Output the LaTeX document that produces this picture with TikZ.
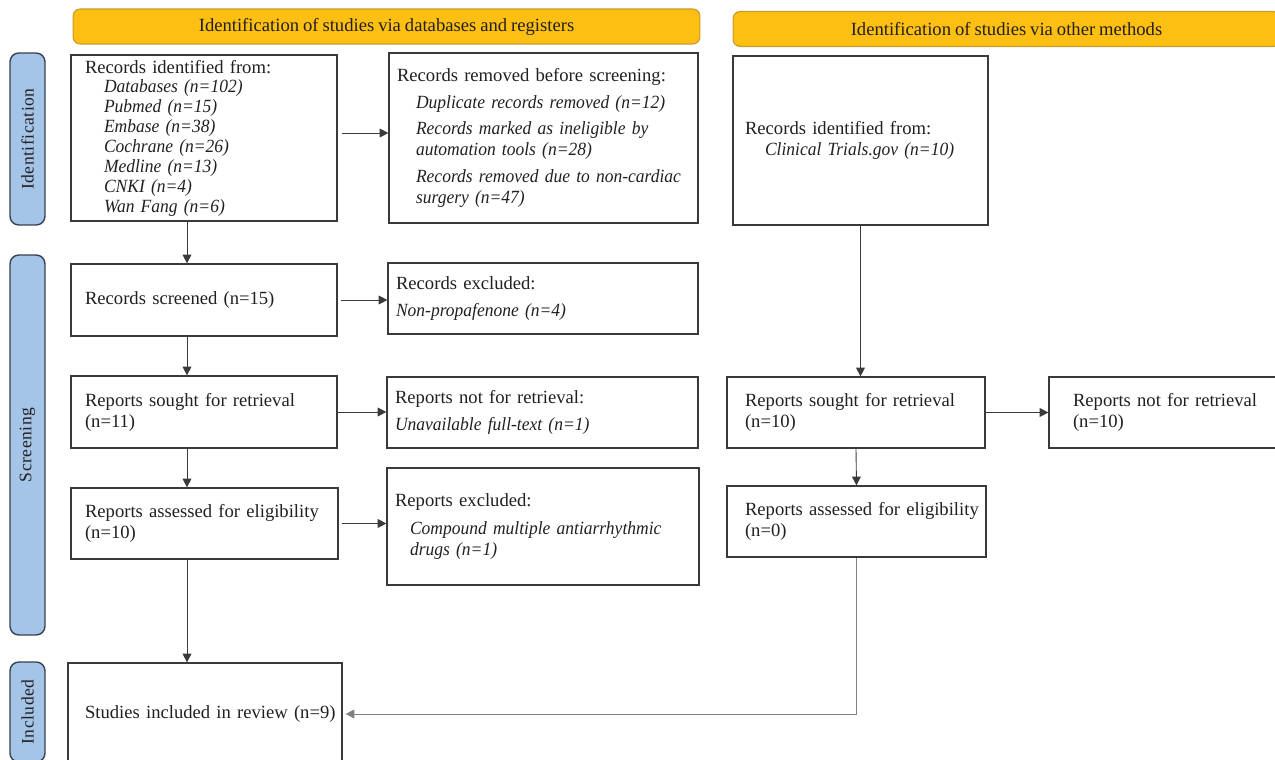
\documentclass[tikz,border=0pt]{standalone}
\usepackage{fontspec}
\setmainfont{Liberation Serif}[WordSpace = 0.85, ItalicFeatures = {FakeStretch = 0.94}]
\usetikzlibrary{arrows.meta}
\definecolor{hdrfill}{HTML}{FDBF12}
\definecolor{hdrline}{HTML}{C99A2E}
\definecolor{sidefill}{HTML}{A4C4E8}
\definecolor{sideline}{HTML}{34414F}
\definecolor{boxline}{HTML}{3A3A3A}
\definecolor{txt}{HTML}{231F20}
\newcommand{\ind}{\hspace*{0.38cm}}
\begin{document}
\begin{tikzpicture}[x = 0.02cm, y = -0.02cm, text = txt,
	font = \fontsize{10.6}{12}\selectfont,
	box/.style = {draw = boxline, line width = 0.7pt, align = left, inner xsep = 0.28cm, inner ysep = 0pt},
	header/.style = {draw = hdrline, fill = hdrfill, rounded corners = 4pt, line width = 0.6pt, minimum height = 0.7cm},
	phase/.style = {draw = sideline, fill = sidefill, rounded corners = 5pt, line width = 0.8pt, rotate = 90, minimum height = 0.7cm,
		font = \fontsize{10}{12}\selectfont\addfontfeature{LetterSpace = 3}},
	arr/.style = {draw = boxline, line width = 0.5pt, -{Triangle[length = 5pt, width = 5pt]}}]
	\useasboundingbox (0, 0) rectangle (1275, 760);
	% headers and phases
	\node [header, minimum width = 12.54cm] (hdrDb) at (386.5, 26.5) {Identification of studies via databases and registers};
	\node [header, minimum width = 10.94cm] (hdrOther) at (1006.5, 29) {Identification of studies via other methods};
	\node [phase, minimum width = 3.44cm] (phId) at (27.5, 139) {Identification};
	\node [phase, minimum width = 7.6cm] (phScr) at (27.5, 445) {Screening};
	\node [phase, minimum width = 2.0cm] (phInc) at (27.5, 712) {Included};
	% databases and registers
	\node [box, text width = 4.76cm, minimum height = 3.32cm, font = \fontsize{10.6}{11.3}\selectfont] (idDb) at (204, 138) {Records identified from:\\
		\ind\textit{Databases (n=102)}\\ \ind\textit{Pubmed (n=15)}\\ \ind\textit{Embase (n=38)}\\
		\ind\textit{Cochrane (n=26)}\\ \ind\textit{Medline (n=13)}\\ \ind\textit{CNKI (n=4)}\\ \ind\textit{Wan Fang (n=6)}};
	\node [box, inner xsep = 0.16cm, text width = 5.86cm, minimum height = 3.4cm] (removed) at (543.5, 138) {Records removed before screening:\\[3pt]
		\ind\textit{Duplicate records removed (n=12)}\\[3pt]
		\ind\mbox{\textit{Records marked as ineligible by}}\\ \ind\textit{automation tools (n=28)}\\[3pt]
		\ind\mbox{\textit{Records removed due to non-cardiac}}\\ \ind\textit{surgery (n=47)}};
	\node [box, text width = 4.76cm, minimum height = 1.44cm] (screened) at (204, 300) {Records screened (n=15)};
	\node [box, inner xsep = 0.16cm, text width = 5.88cm, minimum height = 1.42cm] (excluded) at (543, 298.5) {Records excluded:\\[3pt]
		\textit{Non-propafenone (n=4)}};
	\node [box, text width = 4.76cm, minimum height = 1.44cm] (sought) at (204, 412) {Reports sought for retrieval\\(n=11)};
	\node [box, inner xsep = 0.16cm, text width = 5.9cm, minimum height = 1.42cm] (notRetr) at (542.5, 412.5) {Reports not for retrieval:\\[3pt]
		\textit{Unavailable full-text (n=1)}};
	\node [box, text width = 4.78cm, minimum height = 1.42cm] (assessed) at (204.5, 523.5) {\mbox{Reports assessed for eligibility}\\(n=10)};
	\node [box, inner xsep = 0.16cm, text width = 5.92cm, minimum height = 2.34cm] (rptExcl) at (543, 526.5) {Reports excluded:\\[4pt]
		\hspace*{0.3cm}\mbox{\textit{Compound multiple antiarrhythmic}}\\ \hspace*{0.3cm}\textit{drugs (n=1)}};
	\node [box, inner xsep = 0.34cm, text width = 4.8cm, minimum height = 2.04cm] (included) at (205, 714) {\mbox{Studies included in review (n=9)}};
	% other methods
	\node [box, inner xsep = 0.24cm, text width = 4.62cm, minimum height = 3.38cm] (idOther) at (860.5, 140.5) {Records identified from:\\
		\hspace*{0.4cm}\textit{Clinical Trials.gov (n=10)}};
	\node [box, inner xsep = 0.36cm, text width = 4.44cm, minimum height = 1.42cm] (soughtOther) at (856, 412.5) {Reports sought for retrieval\\(n=10)};
	\node [box, inner xsep = 0.48cm, text width = 3.88cm, minimum height = 1.42cm] (notRetrOther) at (1170, 412.5) {Reports not for retrieval\\(n=10)};
	\node [box, inner xsep = 0.36cm, text width = 4.46cm, minimum height = 1.42cm] (assessedOther) at (856.5, 521.5) {\mbox{Reports assessed for eligibility}\\(n=0)};
	% connectors
	\coordinate (colL) at (187, 0);
	\draw [arr] (idDb.south -| colL) -- (screened.north -| colL);
	\draw [arr] (screened.south -| colL) -- (sought.north -| colL);
	\draw [arr] (sought.south -| colL) -- (assessed.north -| colL);
	\draw [arr] (assessed.south -| colL) -- (included.north -| colL);
	\draw [arr, shorten <= 0.08cm] ([yshift = 0.1cm]idDb.east) -- ([yshift = 0.1cm]idDb.east -| removed.west);
	\draw [arr, shorten <= 0.06cm] (screened.east) -- (screened.east -| excluded.west);
	\draw [arr] (sought.east) -- (sought.east -| notRetr.west);
	\draw [arr, shorten <= 0.06cm] (assessed.east) -- (assessed.east -| rptExcl.west);
	\draw [arr] (idOther.south) -- (idOther.south |- soughtOther.north);
	\draw [arr] (soughtOther.south) -- (assessedOther.north);
	\draw [arr] (soughtOther.east) -- (soughtOther.east -| notRetrOther.west);
	\draw [arr, draw = gray, shorten >= 0.06cm] (assessedOther.south) |- (included.east);
\end{tikzpicture}
\end{document}
